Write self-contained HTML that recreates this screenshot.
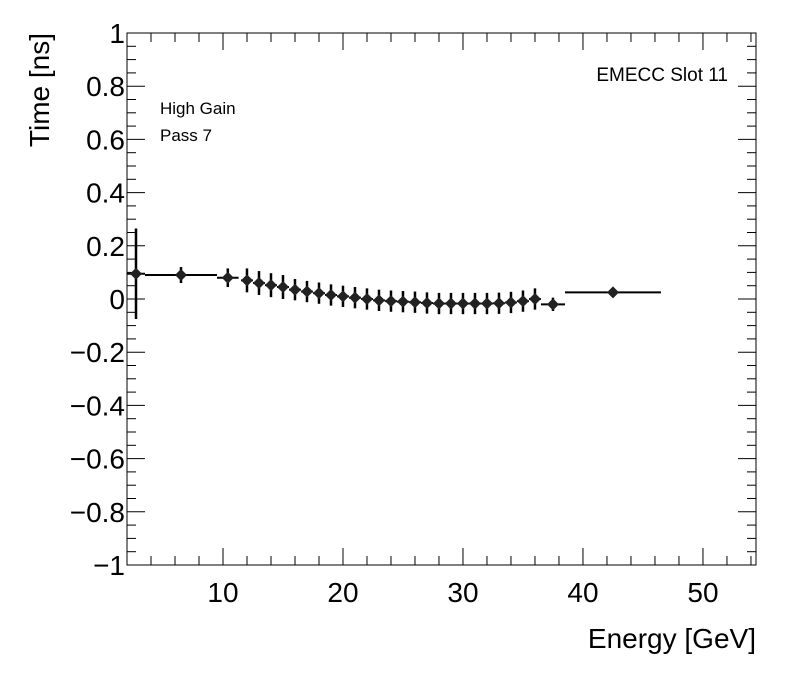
<!DOCTYPE html>
<html><head><meta charset="utf-8"><style>
body{margin:0;background:#fff;}
svg text{font-family:"Liberation Sans",sans-serif;}
</style></head><body>
<svg id="c" width="796" height="672" xmlns="http://www.w3.org/2000/svg"></svg>
<script>
const energies=[2.75,6.5,10.4,12,13,14,15,16,17,18,19,20,21,22,23,24,25,26,27,28,29,30,31,32,33,34,35,36,37.5,42.5];
const xerrs=[0.75,3,0.9,0.5,0.5,0.5,0.5,0.5,0.5,0.5,0.5,0.5,0.5,0.5,0.5,0.5,0.5,0.5,0.5,0.5,0.5,0.5,0.5,0.5,0.5,0.5,0.5,0.5,1,4];
const times=[0.095,0.09,0.08,0.07,0.06,0.052,0.045,0.035,0.028,0.022,0.015,0.01,0.005,0,-0.005,-0.008,-0.01,-0.012,-0.015,-0.017,-0.017,-0.017,-0.017,-0.017,-0.016,-0.013,-0.008,0,-0.02,0.025];
const terrs=[0.17,0.03,0.035,0.045,0.045,0.045,0.045,0.04,0.04,0.04,0.04,0.04,0.04,0.04,0.04,0.04,0.04,0.04,0.04,0.04,0.04,0.04,0.04,0.04,0.04,0.04,0.04,0.04,0.025,0.015];
const xTicks=[10,20,30,40,50];
const yTicks=[-1,-0.8,-0.6,-0.4,-0.2,0,0.2,0.4,0.6,0.8,1];
const yLabels=["\u22121","\u22120.8","\u22120.6","\u22120.4","\u22120.2","0","0.2","0.4","0.6","0.8","1"];
const L=127,R=756,T=33,B=565,X0=2,X1=54.42;
const sx=v=>L+(v-X0)/(X1-X0)*(R-L);
const sy=v=>B-(v+1)/2*(B-T);
const svg=document.getElementById('c');const NS='http://www.w3.org/2000/svg';
function mk(t,a,txt){const e=document.createElementNS(NS,t);for(const k in a)e.setAttribute(k,a[k]);if(txt!==undefined)e.textContent=txt;svg.appendChild(e);return e;}
let e=mk('rect',{x:L,y:T,width:R-L,height:B-T,fill:'none',stroke:'#000','stroke-width':1});

for(let v=2;v<=54;v+=2){const big=v%10===0;const x=sx(v);const h=big?17:9;
mk('line',{x1:x,x2:x,y1:B,y2:B-h,stroke:'#000'});mk('line',{x1:x,x2:x,y1:T,y2:T+h,stroke:'#000'});}
xTicks.forEach(v=>{e=mk('text',{x:sx(v),y:B+37,'font-size':28,'text-anchor':'middle'},String(v));
});
for(let i=0;i<=40;i++){const v=-1+i*0.05;const big=i%4===0;const y=sy(v);const w=big?18:9;
mk('line',{x1:L,x2:L+w,y1:y,y2:y,stroke:'#000'});mk('line',{x1:R,x2:R-w,y1:y,y2:y,stroke:'#000'});}
yTicks.forEach((v,i)=>{e=mk('text',{x:L-2,y:sy(v)+10,'font-size':28,'text-anchor':'end'},yLabels[i]);
});
e=mk('text',{x:756,y:648,'font-size':28,'text-anchor':'end'},'Energy [GeV]');

e=mk('text',{x:0,y:0,'font-size':28,'text-anchor':'end',transform:'translate(49,33) rotate(-90)'},'Time [ns]');

e=mk('text',{x:728,y:81,'font-size':19,'text-anchor':'end'},'EMECC Slot 11');

e=mk('text',{x:160,y:114,'font-size':17},'High Gain');

e=mk('text',{x:160,y:141,'font-size':17},'Pass 7');

energies.forEach((E,i)=>{const x=sx(E),y=sy(times[i]);
const g=document.createElementNS(NS,'g');svg.appendChild(g);


const add=(t,a)=>{const el=document.createElementNS(NS,t);for(const k in a)el.setAttribute(k,a[k]);g.appendChild(el);};
add('line',{x1:Math.max(L,sx(E-xerrs[i])),x2:sx(E+xerrs[i]),y1:y,y2:y,stroke:'#000','stroke-width':2});
add('line',{x1:x,x2:x,y1:sy(times[i]-terrs[i]),y2:sy(times[i]+terrs[i]),stroke:'#000','stroke-width':2.5});
add('polygon',{points:`${x},${y-6} ${x+6},${y} ${x},${y+6} ${x-6},${y}`,fill:'#222'});});
</script>
</body></html>
